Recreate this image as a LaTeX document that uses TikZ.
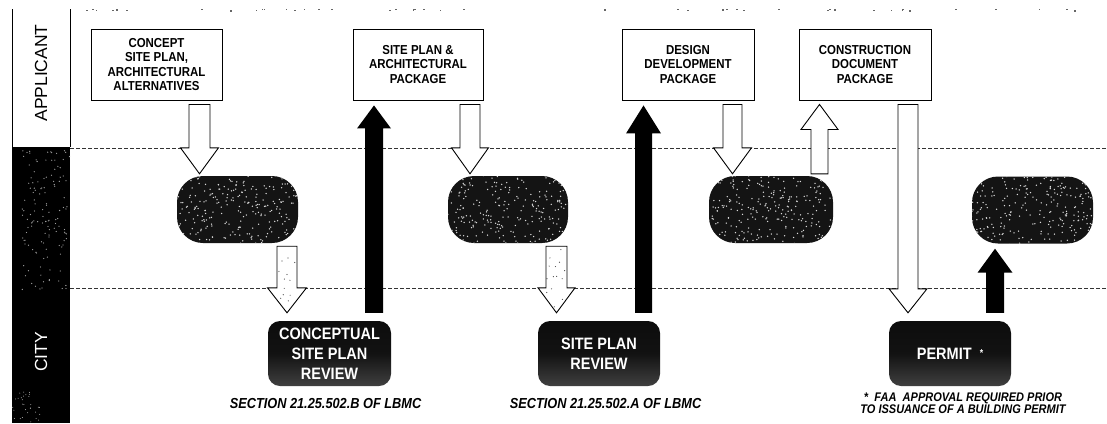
\documentclass[tikz,border=0pt]{standalone}
\usepackage{fontspec}
\setmainfont{Liberation Sans}
\newfontfamily\narrowfont[FakeStretch=0.88]{Liberation Sans}
\usetikzlibrary{calc}
\newcommand\arrdown[6]{%
  \path[#6] let \p1=(#1), \p2=(#2) in
  ({\x1-#3pt},{\y1}) -- ({\x1-#3pt},{\y2+#5pt}) -- ({\x1-#4pt},{\y2+#5pt}) -- ({\x2},{\y2})
  -- ({\x1+#4pt},{\y2+#5pt}) -- ({\x1+#3pt},{\y2+#5pt}) -- ({\x1+#3pt},{\y1}) -- cycle;}
\newcommand\arrup[6]{%
  \path[#6] let \p1=(#1), \p2=(#2) in
  ({\x1-#3pt},{\y1}) -- ({\x1-#3pt},{\y2-#5pt}) -- ({\x1-#4pt},{\y2-#5pt}) -- ({\x2},{\y2})
  -- ({\x1+#4pt},{\y2-#5pt}) -- ({\x1+#3pt},{\y2-#5pt}) -- ({\x1+#3pt},{\y1}) -- cycle;}
\begin{document}
\begin{tikzpicture}[x=1pt,y=-1pt,
  specks/.style n args={5}{path picture={\foreach \k in {1,...,#1}{\fill[#2] ($(path picture bounding box.center)+({(rnd-0.5)*#3},{(rnd-0.5)*#4})$) circle[radius=#5];}}},
  abox/.style={draw, line width=0.9pt, fill=white, minimum width=#1, minimum height=71, inner sep=0pt, align=center, font=\narrowfont\fontsize{13}{14.5}\selectfont\bfseries},
  pill/.style={rounded corners=26pt, fill=black!92, minimum width=#1, minimum height=67, inner sep=0pt, specks={260}{white!85!black}{130}{72}{0.75pt}},
  rbox/.style={rounded corners=12pt, top color=black!95, bottom color=black!75, middle color=black!93, minimum width=#1, minimum height=65, inner sep=0pt, align=center, text=white, font=\narrowfont\fontsize{16.5}{20}\selectfont\bfseries},
  caption/.style={font=\narrowfont\fontsize{14.5}{15}\selectfont\bfseries\itshape, inner sep=0pt},
  warrow/.style={draw, line width=0.9pt, fill=white},
  barrow/.style={fill=black},
  lane/.style={draw=black!80, line width=0.7pt, dash pattern=on 4pt off 2pt}
]
\pgfmathsetseed{11}
\useasboundingbox (0,0) rectangle (1107,423);
\fill[white] (0,0) rectangle (1107,423);
% top specks
\foreach \k in {1,...,45} \fill[black!60] ({80+rnd*1020},{8.5+rnd*2}) rectangle ++(1.6,1.2);
% left column
\fill[black] (12,147) rectangle (70,423);
\begin{scope}
  \clip (12,147) rectangle (70,300);
  \foreach \k in {1,...,130} \fill[gray!75] ({22+rnd*48},{150+rnd*140}) circle[radius=0.65pt];
\end{scope}
\begin{scope}
  \clip (12,390) rectangle (40,423);
  \foreach \k in {1,...,30} \fill[gray!60] ({12+rnd*28},{392+rnd*30}) circle[radius=0.5pt];
\end{scope}
\draw[line width=0.9pt] (12,9) -- (12,147);
\draw[line width=0.9pt] (70,9) -- (70,147);
\node[rotate=90, font=\fontsize{17.5}{17.5}\selectfont] (applicant) at (41,73) {APPLICANT};
\node[rotate=90, text=white, font=\fontsize{17.5}{17.5}\selectfont] (city) at (41,352) {CITY};
% lane lines
\draw[lane] (70,148) -- (1107,148);
\draw[lane] (70,288) -- (1107,288);
% applicant boxes
\node[abox=131] (a1) at (156.5,64.5) {CONCEPT\\SITE PLAN,\\ARCHITECTURAL\\ALTERNATIVES};
\node[abox=130] (a2) at (418,64.5) {SITE PLAN \&\\ARCHITECTURAL\\PACKAGE};
\node[abox=132] (a3) at (688,64.5) {DESIGN\\DEVELOPMENT\\PACKAGE};
\node[abox=132] (a4) at (865,64.5) {CONSTRUCTION\\DOCUMENT\\PACKAGE};
% city pills
\node[pill=121] (c1) at (237.5,209.5) {};
\node[pill=120] (c2) at (508,209.5) {};
\node[pill=124] (c3) at (771,209.5) {};
\node[pill=121] (c4) at (1032.5,210) {};
% reviews
\node[rbox=123] (r1) at (329.5,353.5) {CONCEPTUAL\\SITE PLAN\\REVIEW};
\node[rbox=122] (r2) at (599,353.5) {SITE PLAN\\REVIEW};
\node[rbox=122] (r3) at (950,353.5) {PERMIT~~\raisebox{3pt}{\fontsize{10}{10}\selectfont *}};
% captions
\node[caption] (cap1) at (325.5,404) {SECTION 21.25.502.B OF LBMC};
\node[caption] (cap2) at (605.5,404) {SECTION 21.25.502.A OF LBMC};
\node[caption, align=center, font=\narrowfont\fontsize{12.5}{11}\selectfont\bfseries\itshape] (note) at (963,403.5) {*\enspace FAA\enspace APPROVAL REQUIRED PRIOR\\TO ISSUANCE OF A BUILDING PERMIT};
% connector end points
\coordinate (Aa) at ($(a1.south)+(43,4)$);
\coordinate (Ab) at ($(Aa |- c1.north)+(0,-2)$);
\coordinate (Ba) at ($(c1.south)+(49.5,3)$);
\coordinate (Bb) at ($(Ba |- r1.north)+(0,-8)$);
\coordinate (Ca) at ($(a2.south)+(52,4)$);
\coordinate (Cb) at ($(Ca |- c2.north)+(0,-2)$);
\coordinate (Da) at ($(c2.south)+(48.5,3)$);
\coordinate (Db) at ($(Da |- r2.north)+(0,-8)$);
\coordinate (Ea) at ($(a3.south)+(44.5,4)$);
\coordinate (Eb) at ($(Ea |- c3.north)+(0,-2)$);
\coordinate (Fa) at ($(c3.north)+(48.5,-2)$);
\coordinate (Fb) at ($(Fa |- a4.south)+(0,4)$);
\coordinate (Ga) at ($(a4.south)+(43,4)$);
\coordinate (Gb) at ($(Ga |- r3.north)+(0,-8)$);
\coordinate (Ka) at ($(r1.north)+(44.5,-8)$);
\coordinate (Kb) at ($(Ka |- a2.south)+(0,5)$);
\coordinate (La) at ($(r2.north)+(44.5,-8)$);
\coordinate (Lb) at ($(La |- a3.south)+(0,5)$);
\coordinate (Ha) at ($(r3.north)+(45,-8)$);
\coordinate (Hb) at ($(Ha |- c4.south)+(0,5)$);
% block arrows
\arrdown{Aa}{Ab}{10.5}{19}{26}{warrow}
\arrdown{Ba}{Bb}{10}{19.5}{25}{warrow, specks={14}{black!70}{20}{60}{0.6pt}}
\arrdown{Ca}{Cb}{10}{18.5}{26}{warrow}
\arrdown{Da}{Db}{10.5}{18.5}{25}{warrow, specks={16}{black!70}{20}{60}{0.6pt}}
\arrdown{Ea}{Eb}{9.5}{19}{26}{warrow}
\arrup{Fa}{Fb}{8.5}{18.5}{25}{warrow}
\arrdown{Ga}{Gb}{10}{19}{24}{warrow}
\arrup{Ka}{Kb}{9}{17}{23}{barrow}
\arrup{La}{Lb}{8.5}{17.5}{28}{barrow}
\arrup{Ha}{Hb}{9}{17.5}{24}{barrow}
\end{tikzpicture}
\end{document}
